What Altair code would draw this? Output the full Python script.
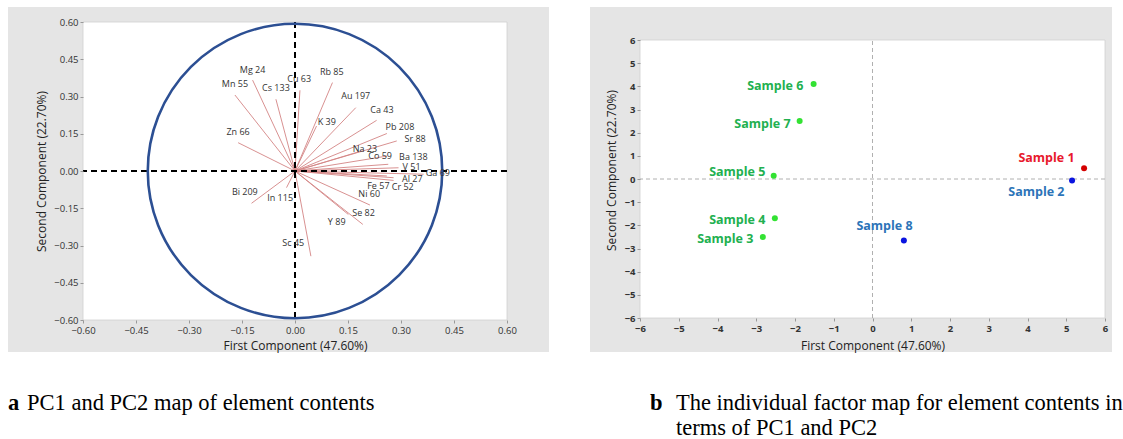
import altair as alt
import pandas as pd

# ---------------- data: panel a (loadings) ----------------
elements = ["Mg 24", "Mn 55", "Cs 133", "Cu 63", "Rb 85", "Au 197", "Ca 43", "K 39",
            "Pb 208", "Sr 88", "Na 23", "Co 59", "Ba 138", "V 51", "Ga 69", "Al 27",
            "Cr 52", "Fe 57", "Ni 60", "Se 82", "Y 89", "Sc 45", "In 115", "Bi 209", "Zn 66"]
pc1_load = [-0.120, -0.170, -0.054, 0.014, 0.106, 0.172, 0.231, 0.061,
            0.260, 0.288, 0.189, 0.260, 0.264, 0.293, 0.364, 0.279,
            0.279, 0.260, 0.212, 0.151, 0.192, 0.045, -0.024, -0.123, -0.161]
pc2_load = [0.366, 0.306, 0.289, 0.325, 0.356, 0.255, 0.204, 0.181,
            0.151, 0.121, 0.081, 0.060, 0.027, 0.013, -0.013, -0.027,
            -0.038, -0.020, -0.137, -0.175, -0.215, -0.343, -0.067, -0.130, 0.114]
label_x = [-0.120, -0.170, -0.054, 0.012, 0.104, 0.172, 0.246, 0.090,
           0.297, 0.340, 0.198, 0.241, 0.335, 0.330, 0.404, 0.332,
           0.305, 0.236, 0.210, 0.194, 0.118, -0.005, -0.042, -0.142, -0.161]
label_y = [0.407, 0.349, 0.336, 0.372, 0.397, 0.302, 0.245, 0.198,
           0.179, 0.130, 0.087, 0.060, 0.056, 0.018, -0.008, -0.034,
           -0.063, -0.060, -0.094, -0.171, -0.206, -0.289, -0.108, -0.083, 0.157]
load_ticks = [-0.60, -0.45, -0.30, -0.15, 0.00, 0.15, 0.30, 0.45, 0.60]

# ---------------- data: panel b (scores) ----------------
samples = ["Sample 1", "Sample 2", "Sample 3", "Sample 4", "Sample 5", "Sample 6", "Sample 7", "Sample 8"]
score1 = [5.46, 5.15, -2.83, -2.52, -2.55, -1.52, -1.88, 0.81]
score2 = [0.46, -0.07, -2.50, -1.69, 0.14, 4.10, 2.50, -2.66]
groups = ["red", "blue", "green", "green", "green", "green", "green", "blue"]
s_label_x = [4.49, 4.23, -3.80, -3.49, -3.49, -2.51, -2.84, 0.31]
s_label_y = [0.89, -0.57, -2.59, -1.79, 0.29, 4.00, 2.37, -2.01]
score_ticks = [-6, -5, -4, -3, -2, -1, 0, 1, 2, 3, 4, 5, 6]

load_df = pd.DataFrame({"element": elements, "pc1": pc1_load, "pc2": pc2_load,
                        "lx": label_x, "ly": label_y})
load_df["x0"] = 0.0
load_df["y0"] = 0.0
score_df = pd.DataFrame({"sample": samples, "s1": score1, "s2": score2, "group": groups,
                         "lx": s_label_x, "ly": s_label_y})

one = alt.Data(values=[{"k": 1}])

FONT = "Open Sans"
SERIF = "Liberation Serif"
GRAY_BG = "#e5e5e5"
CAP = 22.5


def axis(title, values, fmt, pad, bold=False):
    return alt.Axis(values=values, format=fmt, title=title, zindex=2,
                    labelFlush=False, labelOverlap=False, labelSeparation=0, domain=False, grid=False,
                    ticks=True, tickSize=3, tickColor="#999", labelPadding=2,
                    labelFontSize=9.5, labelFontWeight="bold" if bold else "normal",
                    labelColor="#333", labelFont=FONT, titleFont=FONT, titleFontSize=12,
                    titleFontWeight="normal", titleColor="#222", titlePadding=pad)


# ---------------- panel a ----------------
W1, H1 = 424, 298
xs1 = alt.Scale(domain=[-0.6, 0.6], nice=False, zero=False)
ys1 = alt.Scale(domain=[-0.6, 0.6], nice=False, zero=False)
xa1 = axis("First Component (47.60%)", load_ticks, ".2f", 6)
ya1 = axis("Second Component (22.70%)", load_ticks, ".2f", 5)

bg1 = alt.Chart(one).mark_rect(color=GRAY_BG).encode(
    x=alt.value(-75), x2=alt.value(466), y=alt.value(-15), y2=alt.value(330))
white1 = alt.Chart(one).mark_rect(fill="white", stroke="#d0d0d0", strokeWidth=0.8).encode(
    x=alt.value(0), x2=alt.value(W1), y=alt.value(0), y2=alt.value(H1))

vectors = alt.Chart(load_df).mark_rule(color="#d48484", strokeWidth=0.9).encode(
    x=alt.X("x0:Q", scale=xs1, axis=xa1),
    y=alt.Y("y0:Q", scale=ys1, axis=ya1),
    x2="pc1:Q", y2="pc2:Q")

hline1 = alt.Chart(one).mark_rule(color="black", strokeWidth=2, strokeDash=[6, 4]).encode(
    y=alt.datum(0, scale=ys1, axis=ya1))
vline1 = alt.Chart(one).mark_rule(color="black", strokeWidth=2, strokeDash=[6, 4]).encode(
    x=alt.datum(0, scale=xs1, axis=xa1))
circle = alt.Chart(one).mark_point(shape="circle", filled=False, size=86700,
                                   stroke="#2c4f93", strokeWidth=2.6, opacity=1).encode(
    x=alt.datum(0, scale=xs1, axis=xa1), y=alt.datum(0, scale=ys1, axis=ya1))
vlabels = alt.Chart(load_df).mark_text(font=FONT, fontSize=9, color="#333").encode(
    x=alt.X("lx:Q", scale=xs1, axis=xa1), y=alt.Y("ly:Q", scale=ys1, axis=ya1),
    text="element:N")

cap_a_bold = alt.Chart(one).mark_text(font=SERIF, fontSize=CAP, fontWeight="bold",
                                      align="left", baseline="middle", color="black").encode(
    x=alt.value(-75), y=alt.value(381), text=alt.value("a"))
cap_a = alt.Chart(one).mark_text(font=SERIF, fontSize=CAP, align="left", baseline="middle",
                                 color="black").encode(
    x=alt.value(-56), y=alt.value(381), text=alt.value("PC1 and PC2 map of element contents"))

panel_a = alt.layer(bg1, white1, vectors, hline1, vline1, circle, vlabels,
                    cap_a_bold, cap_a).properties(width=W1, height=H1)

# ---------------- panel b ----------------
W2, H2 = 465, 296
xs2 = alt.Scale(domain=[-6, 6], nice=False, zero=False)
ys2 = alt.Scale(domain=[-6, 6.777], nice=False, zero=False)
xa2 = axis("First Component (47.60%)", score_ticks, "d", 8, True)
ya2 = axis("Second Component (22.70%)", score_ticks, "d", 6, True)

bg2 = alt.Chart(one).mark_rect(color=GRAY_BG).encode(
    x=alt.value(-50), x2=alt.value(472), y=alt.value(-15), y2=alt.value(330))
white2 = alt.Chart(one).mark_rect(fill="white", stroke="#d0d0d0", strokeWidth=0.8).encode(
    x=alt.value(0), x2=alt.value(W2), y=alt.datum(6, scale=ys2, axis=ya2), y2=alt.datum(-6))
vline2 = alt.Chart(one).mark_rule(color="#b0b0b0", strokeWidth=1, strokeDash=[4, 3]).encode(
    x=alt.datum(0, scale=xs2, axis=xa2), y=alt.datum(-6, scale=ys2, axis=ya2), y2=alt.datum(6))
hline2 = alt.Chart(one).mark_rule(color="#b0b0b0", strokeWidth=1, strokeDash=[4, 3]).encode(
    y=alt.datum(0, scale=ys2, axis=ya2))

pts = alt.Chart(score_df).mark_circle(size=36, opacity=1).encode(
    x=alt.X("s1:Q", scale=xs2, axis=xa2),
    y=alt.Y("s2:Q", scale=ys2, axis=ya2),
    color=alt.Color("group:N", legend=None,
                    scale=alt.Scale(domain=["red", "blue", "green"],
                                    range=["#d40000", "#0a14e0", "#33e233"])))
slabels = alt.Chart(score_df).mark_text(font=FONT, fontSize=12.5, fontWeight="bold").encode(
    x=alt.X("lx:Q", scale=xs2, axis=xa2), y=alt.Y("ly:Q", scale=ys2, axis=ya2), text="sample:N",
    color=alt.Color("group:N", legend=None,
                    scale=alt.Scale(domain=["red", "blue", "green"],
                                    range=["#e8182c", "#2c74b8", "#22b050"])))

cap_b_bold = alt.Chart(one).mark_text(font=SERIF, fontSize=CAP, fontWeight="bold",
                                      align="left", baseline="middle", color="black").encode(
    x=alt.value(10), y=alt.value(381), text=alt.value("b"))
cap_b1 = alt.Chart(one).mark_text(font=SERIF, fontSize=CAP, align="left", baseline="middle",
                                  color="black", limit=447, ellipsis=" ").encode(
    x=alt.value(36), y=alt.value(381),
    text=alt.value("The individual factor map for element contents in"))
cap_b2 = alt.Chart(one).mark_text(font=SERIF, fontSize=CAP, align="left", baseline="middle",
                                  color="black").encode(
    x=alt.value(36), y=alt.value(406), text=alt.value("terms of PC1 and PC2"))

panel_b = alt.layer(bg2, white2, vline2, hline2, pts, slabels,
                    cap_b_bold, cap_b1, cap_b2).resolve_scale(color="independent").properties(
    width=W2, height=H2)

chart = alt.hconcat(panel_a, panel_b, spacing=41).properties(
    padding={"left": 8, "top": 7, "right": 0, "bottom": 0},
    background="white",
).configure_view(stroke=None)

chart.save("out.html", embed_options={"renderer": "svg", "actions": False})
